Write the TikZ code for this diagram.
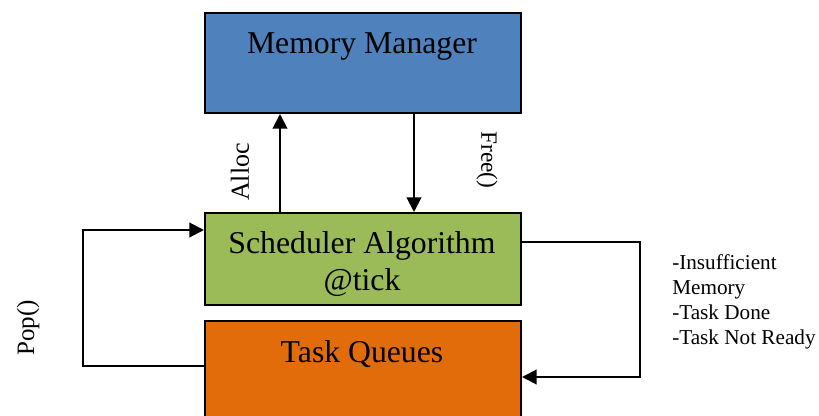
\documentclass[tikz,border=0pt]{standalone}
\usepackage{fontspec}
\setmainfont{Liberation Serif}
\usetikzlibrary{arrows.meta}
\definecolor{mmblue}{HTML}{4F81BD}
\definecolor{schgreen}{HTML}{9BBB59}
\definecolor{tqorange}{HTML}{E36C0A}
\begin{document}
\begin{tikzpicture}[x=0.75pt,y=-0.75pt,
  box/.style={draw=black,line width=1.5pt,rectangle,inner sep=0pt,
    minimum width=237pt},
  boxtext/.style={font=\fontsize{23.8}{27.5}\selectfont,align=center},
  arr/.style={line width=1.5pt,-{Triangle[length=11pt,width=11pt]}},
  note/.style={font=\fontsize{15.9}{18.6}\selectfont,align=left,inner sep=0pt}]
\clip (0,0) rectangle (819,415);
\useasboundingbox (0,0) rectangle (819,415);

% the three blocks
\node[box,fill=mmblue,minimum height=75pt,anchor=north west] (mm) at (204,12) {};
\node[box,fill=schgreen,minimum height=69pt,anchor=north west] (sched) at (204,212) {};
\node[box,fill=tqorange,minimum height=75pt,anchor=north west] (tq) at (204,320) {};

% block captions
\node[boxtext] (mmtxt) at (362,47) {Memory Manager};
\node[boxtext] (schedtxt) at (362,264) {Scheduler Algorithm\\@tick};
\node[boxtext] (tqtxt) at (362,354) {Task Queues};

% helper coordinates for the connectors
\coordinate (ax) at (280,0);
\coordinate (fx) at (414,0);
\coordinate (ry1) at (0,242);
\coordinate (ry2) at (0,377);
\coordinate (rx) at (640,0);
\coordinate (ly1) at (0,366);
\coordinate (ly2) at (0,230);
\coordinate (lx) at (83,0);

% memory requests
\draw[arr] (ax |- sched.north) -- (ax |- mm.south);
\draw[arr] (fx |- mm.south) -- (fx |- sched.north);

% task returned to the queues
\draw[arr] (ry1 -| sched.east) -- (ry1 -| rx) -- (ry2 -| rx) -- (ry2 -| tq.east);

% task popped from the queues
\draw[arr] (ly1 -| tq.west) -- (ly1 -| lx) -- (ly2 -| lx) -- (ly2 -| sched.west);

% connector labels
\node[font=\fontsize{19.5}{22}\selectfont,rotate=90] (alloc) at (240,172) {Alloc};
\node[font=\fontsize{17.5}{20}\selectfont,rotate=-90] (free) at (487,160) {Free()};
\node[font=\fontsize{18.75}{22}\selectfont,rotate=90] (pop) at (28,328) {Pop()};
\node[note,anchor=west] (reasons) at (672,302) {-Insufficient\\Memory\\-Task Done\\-Task Not Ready};
\end{tikzpicture}
\end{document}
